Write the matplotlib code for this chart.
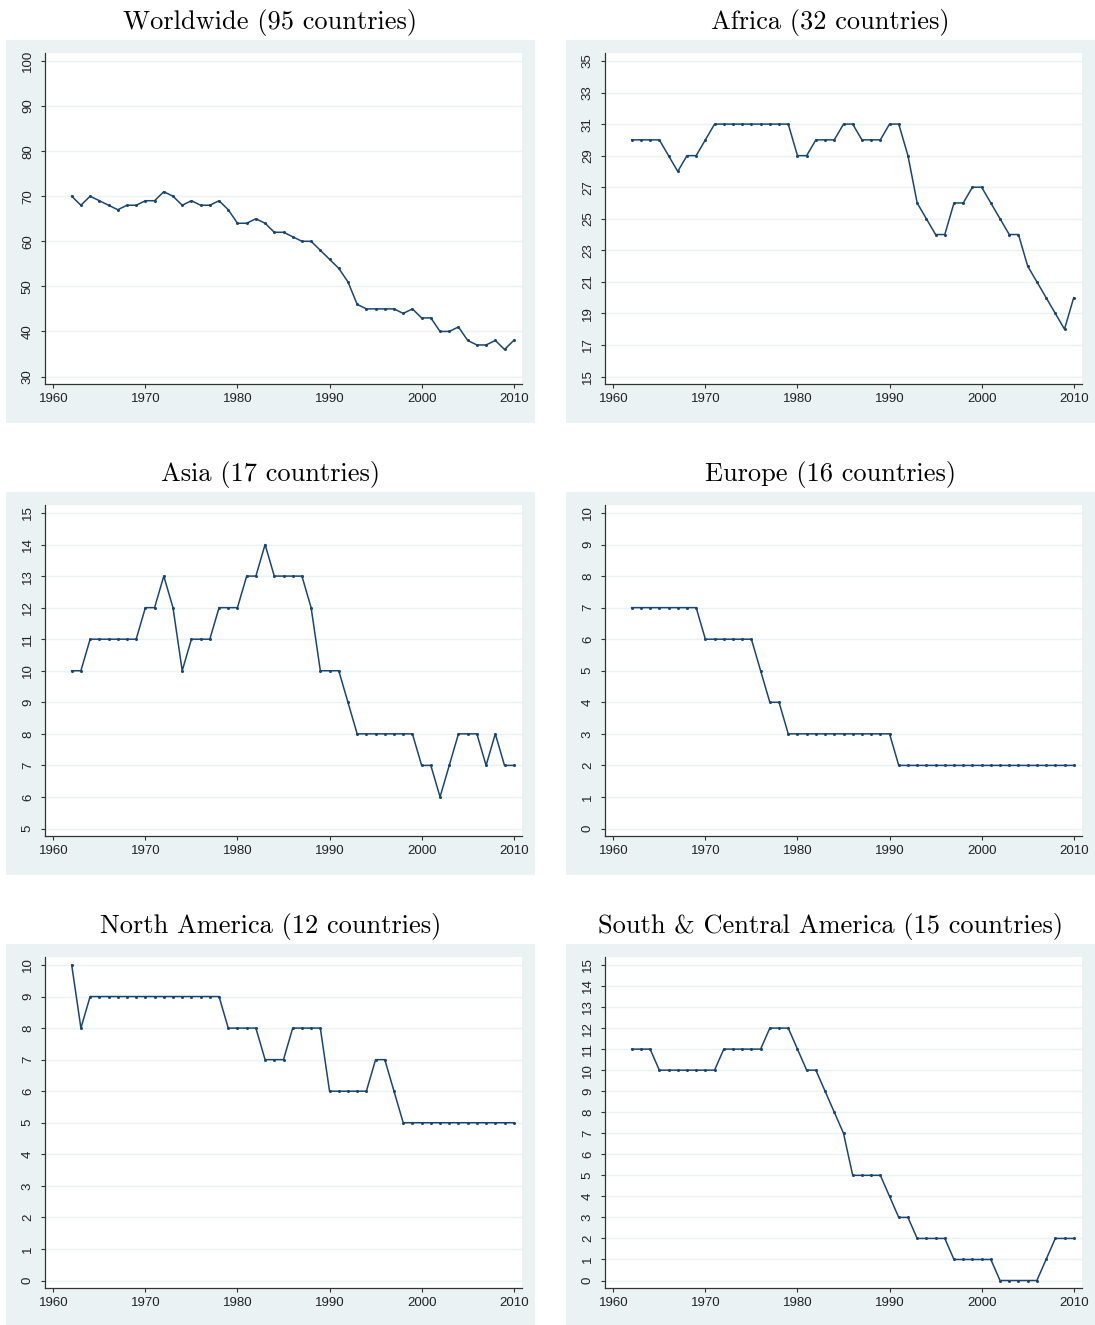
import matplotlib
matplotlib.use("Agg")
import matplotlib.pyplot as plt
from matplotlib.patches import Rectangle
import numpy as np

years = list(range(1962, 2011))

worldwide = [70, 68, 70, 69, 68, 67, 68, 68, 69, 69, 71, 70, 68, 69, 68, 68, 69, 67,
             64, 64, 65, 64, 62, 62, 61, 60, 60, 58, 56, 54, 51, 46, 45, 45, 45, 45,
             44, 45, 43, 43, 40, 40, 41, 38, 37, 37, 38, 36, 38]
africa = [30, 30, 30, 30, 29, 28, 29, 29, 30, 31, 31, 31, 31, 31, 31, 31, 31, 31,
          29, 29, 30, 30, 30, 31, 31, 30, 30, 30, 31, 31, 29, 26, 25, 24, 24, 26,
          26, 27, 27, 26, 25, 24, 24, 22, 21, 20, 19, 18, 20]
asia = [10, 10, 11, 11, 11, 11, 11, 11, 12, 12, 13, 12, 10, 11, 11, 11, 12, 12,
        12, 13, 13, 14, 13, 13, 13, 13, 12, 10, 10, 10, 9, 8, 8, 8, 8, 8,
        8, 8, 7, 7, 6, 7, 8, 8, 8, 7, 8, 7, 7]
europe = [7, 7, 7, 7, 7, 7, 7, 7, 6, 6, 6, 6, 6, 6, 5, 4, 4, 3,
          3, 3, 3, 3, 3, 3, 3, 3, 3, 3, 3, 2, 2, 2, 2, 2, 2, 2,
          2, 2, 2, 2, 2, 2, 2, 2, 2, 2, 2, 2, 2]
north_america = [10, 8, 9, 9, 9, 9, 9, 9, 9, 9, 9, 9, 9, 9, 9, 9, 9, 8,
                 8, 8, 8, 7, 7, 7, 8, 8, 8, 8, 6, 6, 6, 6, 6, 7, 7, 6,
                 5, 5, 5, 5, 5, 5, 5, 5, 5, 5, 5, 5, 5]
south_central = [11, 11, 11, 10, 10, 10, 10, 10, 10, 10, 11, 11, 11, 11, 11, 12, 12, 12,
                 11, 10, 10, 9, 8, 7, 5, 5, 5, 5, 4, 3, 3, 2, 2, 2, 2, 1,
                 1, 1, 1, 1, 0, 0, 0, 0, 0, 1, 2, 2, 2]

titles = ["Worldwide (95 countries)", "Africa (32 countries)",
          "Asia (17 countries)", "Europe (16 countries)",
          "North America (12 countries)", "South & Central America (15 countries)"]
series = [worldwide, africa, asia, europe, north_america, south_central]
y_ticks = [list(range(30, 101, 10)), list(range(15, 36, 2)),
           list(range(5, 16, 1)), list(range(0, 11, 1)),
           list(range(0, 11, 1)), list(range(0, 16, 1))]
x_ticks = [1960, 1970, 1980, 1990, 2000, 2010]

W, H = 1095, 1325
fig = plt.figure(figsize=(W / 100, H / 100), dpi=100)
fig.patch.set_facecolor("white")

BG = "#EAF2F3"
LINE = "#1A476F"

col_x = [6, 566]
row_y = [40, 492, 944]
panel_w, panel_h = 529, 383

for i in range(6):
    r, c = divmod(i, 2)
    px, py = col_x[c], row_y[r]
    ph = panel_h if r < 2 else H - py
    fig.patches.append(Rectangle((px / W, 1 - (py + ph) / H), panel_w / W, ph / H,
                                 transform=fig.transFigure, facecolor=BG,
                                 edgecolor="none", zorder=-10))
    ax_l = px + 39
    ax_r = px + 516
    ax_t = py + 13
    ax_b = py + 344
    ax = fig.add_axes([ax_l / W, 1 - ax_b / H, (ax_r - ax_l) / W, (ax_b - ax_t) / H])
    ax.set_facecolor("white")
    yt = y_ticks[i]
    lo, hi = yt[0], yt[-1]
    rng = hi - lo
    ax.set_ylim(lo - rng * 7.5 / 316, hi + rng * 8 / 316)
    ax.set_xlim(1959.1, 2010.9)
    ax.set_yticks(yt)
    ax.set_xticks(x_ticks)
    ax.grid(axis="y", color=BG, linewidth=1.0, zorder=0)
    ax.set_axisbelow(True)
    ax.plot(years, series[i], color=LINE, linewidth=1.1, marker="o",
            markersize=2.2, markeredgewidth=0, zorder=3)
    for s in ["top", "right"]:
        ax.spines[s].set_visible(False)
    for s in ["left", "bottom"]:
        ax.spines[s].set_color("#333333")
        ax.spines[s].set_linewidth(0.9)
    ax.tick_params(axis="both", direction="out", length=3, width=0.8,
                   color="#333333", labelsize=9.5, labelcolor="#222222")
    ax.tick_params(axis="y", pad=5)
    ax.tick_params(axis="x", pad=3.5)
    for lab in ax.get_yticklabels():
        lab.set_rotation(90)
        lab.set_va("center")
        lab.set_fontfamily("Liberation Sans")
    for lab in ax.get_xticklabels():
        lab.set_fontfamily("Liberation Sans")
    cx = (px + panel_w / 2) / W
    fig.text(cx, 1 - (py - 18) / H, titles[i], ha="center", va="center",
             fontsize=19, family="cmr10")

fig.savefig("out.png", dpi=100, facecolor="white")
